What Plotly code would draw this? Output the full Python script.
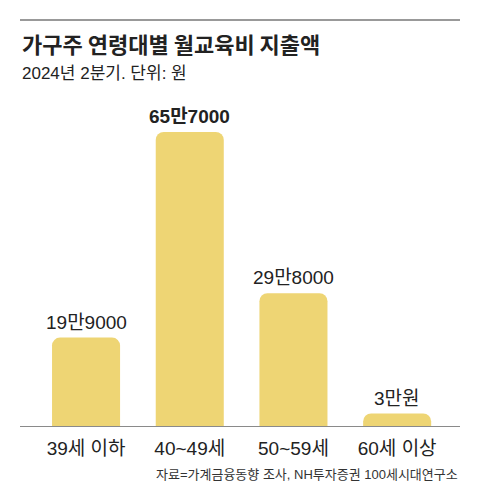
import plotly.graph_objects as go

categories = ["39세 이하", "40~49세", "50~59세", "60세 이상"]
values = [199000, 657000, 298000, 30000]
labels = ["19만9000", "<b>65만7000</b>", "29만8000", "3만원"]

title = "가구주 연령대별 월교육비 지출액"
subtitle = "2024년 2분기. 단위: 원"
source = "자료=가계금융동향 조사, NH투자증권 100세시대연구소"

W, H = 480, 498
ML, MR, MT, MB = 20, 20, 100, 71
PH = H - MT - MB
PW = W - ML - MR
BASE = H - MB

def py(y):
    return (BASE - y) / PH

NARROW = "Liberation Sans Narrow, Liberation Sans, Noto Sans CJK KR, sans-serif"
CJK = "Noto Sans CJK KR, sans-serif"

fig = go.Figure(go.Bar(
    x=categories, y=values,
    marker=dict(color="#EED574", cornerradius=8, line=dict(width=0)),
    width=0.656, cliponaxis=False,
    hoverinfo="skip",
))

for c, v, t in zip(categories, values, labels):
    fig.add_annotation(x=c, y=v, text=t, xref="x", yref="y", showarrow=False,
                       yanchor="bottom", yshift=3,
                       font=dict(family=NARROW, size=19, color="#222222"))

fig.update_layout(
    width=W, height=H, margin=dict(l=ML, r=MR, t=MT, b=MB),
    paper_bgcolor="white", plot_bgcolor="white", showlegend=False,
    xaxis=dict(range=[-0.637, 3.606], showgrid=False, zeroline=False, showline=False,
               ticks="", ticklabelstandoff=8,
               tickfont=dict(family=NARROW, size=19, color="#222222")),
    yaxis=dict(range=[0, 728000], visible=False),
)

fig.add_shape(type="line", xref="paper", yref="paper", x0=0, x1=1, y0=py(20), y1=py(20),
              line=dict(color="#999999", width=2))
fig.add_shape(type="line", xref="paper", yref="y", x0=0, x1=1, y0=0, y1=0,
              line=dict(color="#8a8a8a", width=2))

fig.add_annotation(text=f"<b>{title}</b>", xref="paper", yref="paper", x=0, y=py(43),
                   xanchor="left", yanchor="middle", showarrow=False,
                   font=dict(family=CJK, size=22, color="#222222"))
fig.add_annotation(text=subtitle, xref="paper", yref="paper", x=0, y=py(73),
                   xanchor="left", yanchor="middle", showarrow=False,
                   font=dict(family=NARROW, size=17, color="#222222"))
fig.add_annotation(text=source, xref="paper", yref="paper", x=1, y=py(474),
                   xanchor="right", yanchor="middle", showarrow=False,
                   font=dict(family=NARROW, size=13, color="#333333"))

fig.write_html("out.html")
